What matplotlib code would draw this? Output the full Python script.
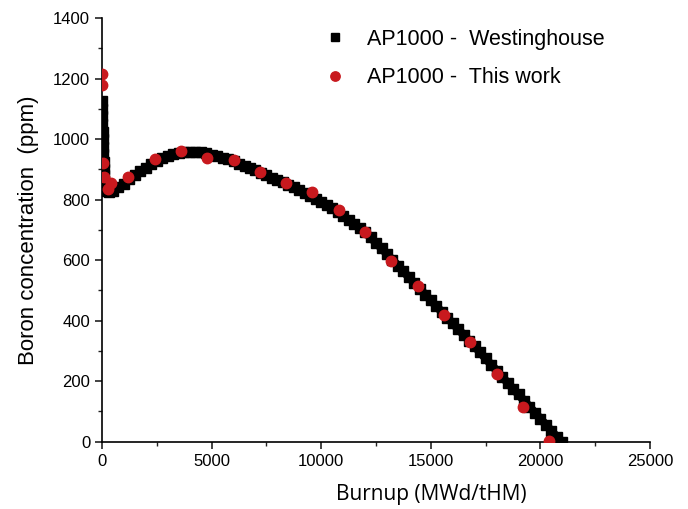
import numpy as np
import matplotlib.pyplot as plt
from matplotlib.ticker import MultipleLocator

# Westinghouse reference curve
west_burnup = [0, 0, 10, 20, 30, 40, 50, 60, 70, 80, 90, 100, 125, 150, 200,
               300, 500, 750, 1000, 1250, 1500, 1750, 2000, 2250, 2500, 2750,
               3000, 3250, 3500, 3750, 4000, 4250, 4500, 4750, 5000, 5250,
               5500, 5750, 6000, 6250, 6500, 6750, 7000, 7250, 7500, 7750,
               8000, 8250, 8500, 8750, 9000, 9250, 9500, 9750, 10000, 10250,
               10500, 10750, 11000, 11250, 11500, 11750, 12000, 12250, 12500,
               12750, 13000, 13250, 13500, 13750, 14000, 14250, 14500, 14750,
               15000, 15250, 15500, 15750, 16000, 16250, 16500, 16750, 17000,
               17250, 17500, 17750, 18000, 18250, 18500, 18750, 19000, 19250,
               19500, 19750, 20000, 20250, 20500, 20750, 21000]
west_boron = [1125, 1100, 1075, 1050, 1025, 1000, 975, 950, 925, 900, 880, 862,
              848, 838, 830,
              826, 830, 840, 853, 867, 880, 893, 905, 917, 927, 936,
              944, 950, 954, 957, 958, 958, 956, 953, 949, 944,
              939, 933, 926, 919, 912, 905, 897, 889, 881, 873,
              865, 857, 849, 840, 831, 822, 813, 803, 793, 782,
              771, 759, 746, 733, 720, 706, 692, 675, 657,
              639, 620, 601, 582, 563, 543, 524, 505, 486,
              467, 448, 429, 410, 391, 372, 353, 334, 315,
              295, 275, 255, 235, 215, 195, 175, 156, 136,
              116, 96, 76, 56, 36, 16, 0]

# this work
tw_burnup = [0, 0, 50, 100, 270, 430, 1190, 2400, 3600, 4800, 6000, 7200,
             8400, 9600, 10800, 12000, 13200, 14400, 15600, 16800, 18000,
             19200, 20400]
tw_boron = [1214, 1179, 920, 876, 834, 854, 876, 933, 959, 939, 930, 891,
            854, 824, 767, 694, 597, 515, 419, 328, 224, 115, 3]

plt.rcParams['font.family'] = ['Liberation Sans', 'DejaVu Sans']

fig = plt.figure(figsize=(6.88, 5.09), dpi=100)
ax = fig.add_axes([0.1483, 0.1322, 0.7965, 0.8324])

# thick line underneath so the dense markers read as one band
ax.plot(west_burnup, west_boron, ls='-', lw=6, color='black',
        solid_capstyle='butt', zorder=2)
ax.plot(west_burnup, west_boron, ls='none', marker='s', ms=6.5,
        color='black', mec='black', label='AP1000 -  Westinghouse', zorder=2)
ax.plot(tw_burnup, tw_boron, ls='none', marker='o', ms=7.5,
        color='#c8191e', mec='#c8191e', label='AP1000 -  This work', zorder=3)

ax.set_xlim(0, 25000)
ax.set_ylim(0, 1400)
ax.xaxis.set_major_locator(MultipleLocator(5000))
ax.xaxis.set_minor_locator(MultipleLocator(2500))
ax.yaxis.set_major_locator(MultipleLocator(200))
ax.yaxis.set_minor_locator(MultipleLocator(100))

for s in ['top', 'right']:
    ax.spines[s].set_visible(False)
for s in ['left', 'bottom']:
    ax.spines[s].set_linewidth(1.2)
ax.tick_params(which='major', direction='out', length=5, width=1.2,
               labelsize=12, color='#222222')
ax.tick_params(which='minor', direction='out', length=3, width=1.0,
               color='#222222')

ax.set_xlabel('Burnup (MWd/tHM)', fontsize=15, family=['Open Sans', 'DejaVu Sans'])
ax.xaxis.set_label_coords(0.6, -0.1)
ax.set_ylabel('Boron concentration  (ppm)', fontsize=16, labelpad=10)

leg = ax.legend(loc='upper left', bbox_to_anchor=(0.35, 1.02), frameon=False,
                fontsize=15.5, handletextpad=0.5, labelspacing=0.8,
                markerscale=0.9)

fig.savefig('out.png', dpi=100)
